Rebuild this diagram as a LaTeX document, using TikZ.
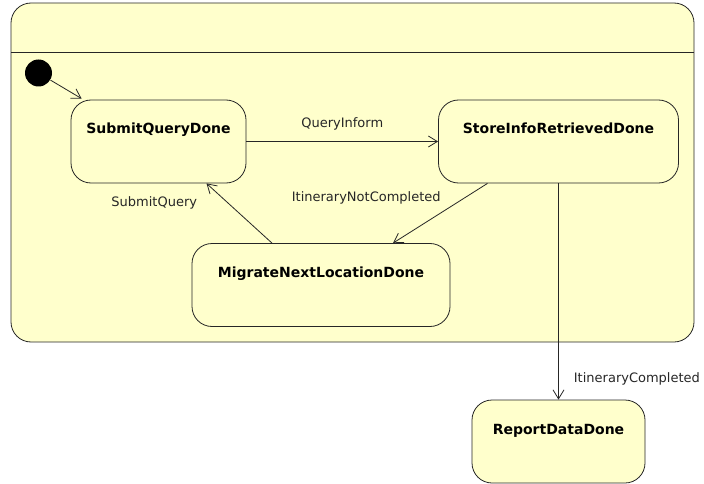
\documentclass[tikz,border=0pt]{standalone}
\usepackage{fontspec}
\setmainfont{DejaVu Sans}
\usetikzlibrary{arrows.meta}
\tikzset{>={Straight Barb[length=9pt,width=11pt]}}
\definecolor{statefill}{HTML}{FFFFCC}
\colorlet{edge}{black!85}
\tikzset{
  state/.style={draw=edge, fill=statefill, rounded corners=20pt, inner sep=0pt,
    font=\bfseries\fontsize{14}{16}\selectfont, text height=34pt, text depth=49pt},
  trans/.style={font=\fontsize{13}{15}\selectfont, inner sep=0pt}
}

\begin{document}
\begin{tikzpicture}[x=1pt,y=-1pt,line width=0.8pt]
  \useasboundingbox (0,0) rectangle (704,484);
  % composite state
  \draw[edge,fill=statefill,rounded corners=20pt] (11,3) rectangle (694,342);
  \draw[edge] (11,52) -- (694,52);
  \node[circle,fill=black,minimum size=27pt,inner sep=0pt] (init) at (38.5,73) {};
  \node[state,minimum width=175pt] (sqd) at (158.5,141.5) {SubmitQueryDone};
  \node[state,minimum width=240pt] (sid) at (558.5,141.5) {StoreInfoRetrievedDone};
  \node[state,minimum width=258pt] (mnl) at (321,285) {MigrateNextLocationDone};
  \node[state,minimum width=173pt] (rdd) at (558.5,441.5) {ReportDataDone};
  % transitions
  \draw[->,edge] (init) -- ([xshift=11pt,yshift=1pt]sqd.north west);
  \draw[->,edge] (sqd.east) -- (sqd.east -| sid.west)
    node[trans,midway,yshift=18pt] (qi) {QueryInform};
  \draw[->,edge] ([xshift=-71pt]sid.south) -- ([xshift=72pt]mnl.north)
    node[trans,midway,xshift=-74pt,yshift=15pt] (inc) {ItineraryNotCompleted};
  \draw[->,edge] ([xshift=-49pt]mnl.north) -- ([xshift=48pt]sqd.south)
    node[trans,midway,xshift=-85pt,yshift=10pt] (sq) {SubmitQuery};
  \draw[->,edge] (sid.south) -- (rdd.north)
    node[trans,pos=0.905,anchor=west,xshift=15pt] (ic) {ItineraryCompleted};
\end{tikzpicture}
\end{document}
